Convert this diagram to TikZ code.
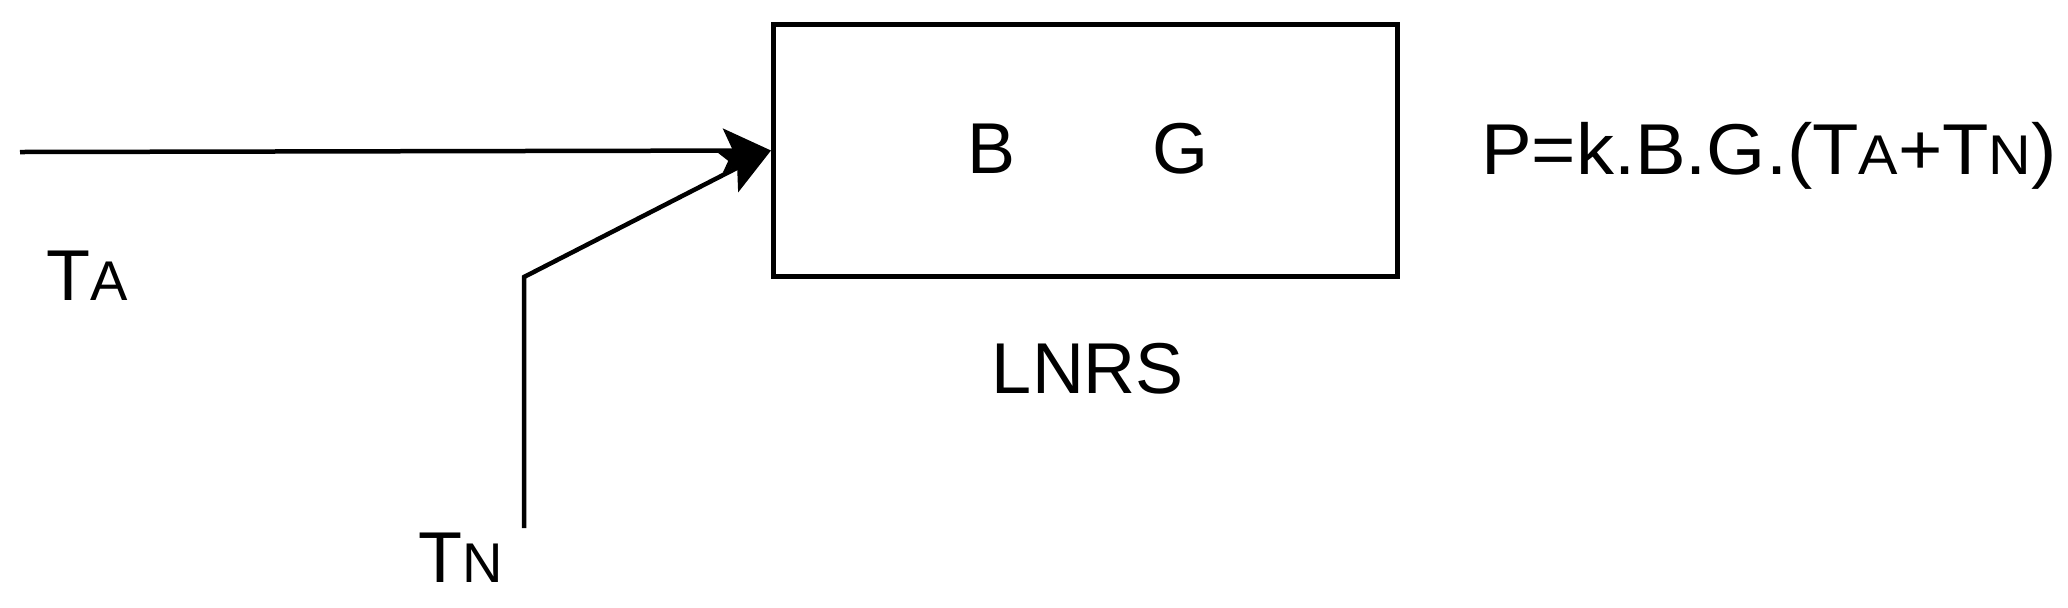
\documentclass[tikz,border=0pt]{standalone}
\usepackage{fontspec}
\setmainfont{Liberation Sans}
\usetikzlibrary{arrows.meta}
\newcommand\smcap[1]{{\fontsize{28}{30}\selectfont #1}}
\begin{document}
\begin{tikzpicture}[x=0.5pt,y=-0.5pt,
  lbl/.style={inner sep=0pt,anchor=base,font=\fontsize{36}{40}\selectfont},
  wire/.style={line width=2.25pt},
  arr/.style={wire,-{Stealth[length=24pt,width=22pt,inset=5pt]}},
  blk/.style={draw,line width=2.5pt,minimum width=312pt,minimum height=126pt,inner sep=0pt}]
\useasboundingbox (0,0) rectangle (2068,607);
\node[blk] (box) at (1085.5,150.5) {};
\coordinate (ta0) at (20,152);
\coordinate (tnb) at (524,528);
\coordinate (tnc) at (524,277);
\draw[arr] (ta0) -- (box.west);
\draw[arr] (tnb) -- (tnc) -- (box.west);
\node[lbl] (B) at (992,173) {B};
\node[lbl] (G) at (1180,173) {G};
\node[lbl] (lnrs) at (1088,393) {LNRS};
\node[lbl] (ta) at (87,300) {T\smcap{A}};
\node[lbl] (tn) at (461,582) {T\smcap{N}};
\node[lbl,xscale=1.055,transform shape] (eq) at (1769,174) {P=k.B.G.(T\smcap{A}+T\smcap{N})};
\end{tikzpicture}
\end{document}
